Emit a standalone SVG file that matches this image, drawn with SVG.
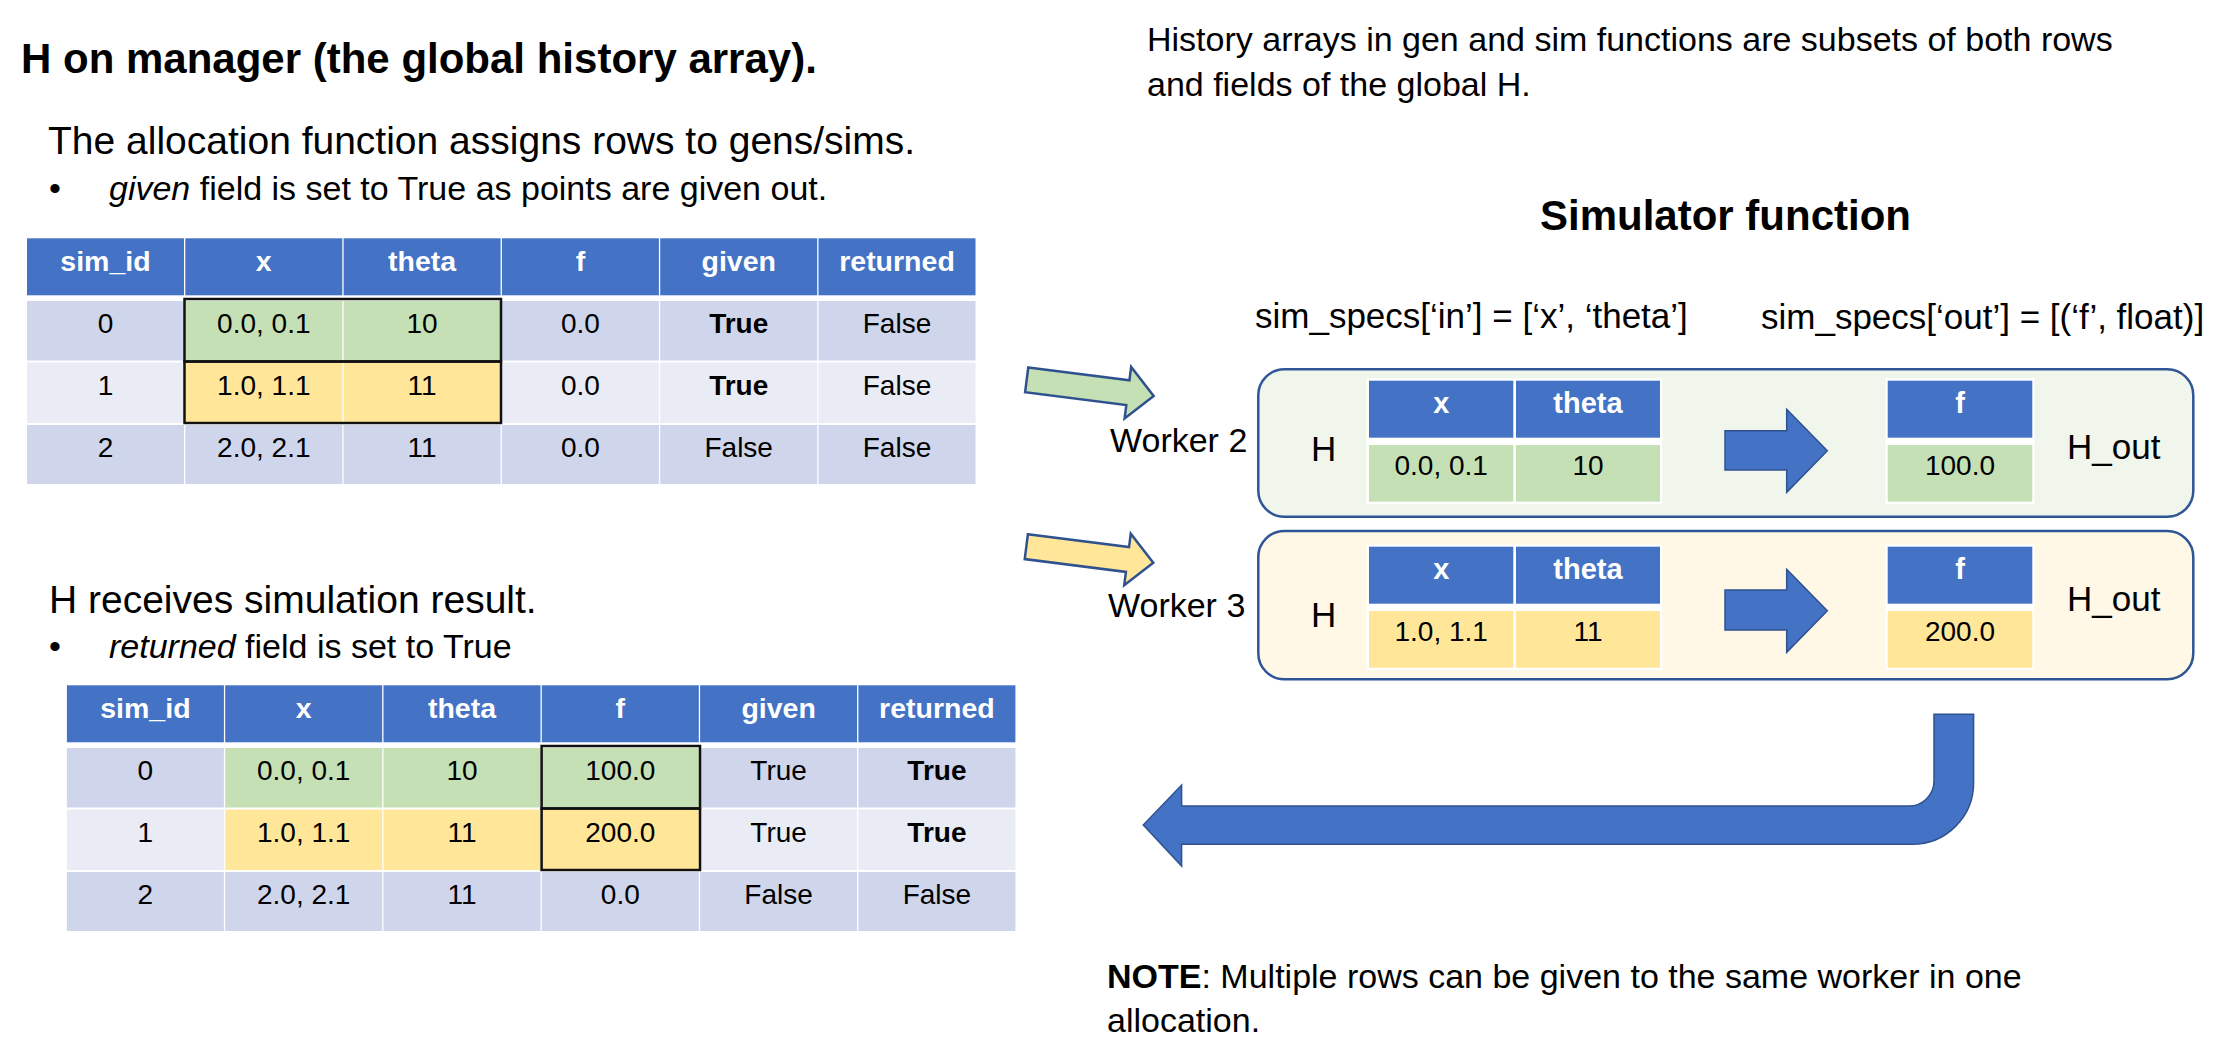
<svg xmlns="http://www.w3.org/2000/svg" width="2232" height="1064" viewBox="0 0 2232 1064">
<style>
text { font-family: "Liberation Sans", Arial, sans-serif; fill: #000; }
.h1 { font-size: 42px; font-weight: bold; }
.big { font-size: 39px; }
.body { font-size: 34px; }
.spec { font-size: 35px; }
.hd { font-size: 28.5px; font-weight: bold; fill: #fff; text-anchor: middle; }
.hd2 { font-size: 29px; font-weight: bold; fill: #fff; text-anchor: middle; }
.cd { font-size: 28px; text-anchor: middle; }
.b { font-weight: bold; }
.hdr { fill: #4472C4; }
.r1 { fill: #CFD5EA; }
.r2 { fill: #E9EBF5; }
.g { fill: #C5E0B4; }
.y { fill: #FFE699; }
.blk { fill: none; stroke: #111; stroke-width: 2.5; }
.box { stroke: #2F5597; stroke-width: 2.5; }
.barrow { fill: #4472C4; stroke: #2F528F; stroke-width: 1.5; }
.sarrow { stroke: #2F528F; stroke-width: 2.5; stroke-linejoin: miter; }
</style>
<defs>
<polygon id="smallArrow" points="0,-12.5 102,-12.5 102,-26 128,0 102,26 102,12.5 0,12.5"/>
</defs>
<rect x="0" y="0" width="2232" height="1064" fill="#fff"/>

<g id="title">
<text class="h1" x="21" y="73">H on manager (the global history array).</text>
</g>

<g id="alloc-text">
<text class="big" x="48" y="154">The allocation function assigns rows to gens/sims.</text>
<text class="body" x="49" y="200">•</text>
<text class="body" x="109" y="200"><tspan font-style="italic">given</tspan> field is set to True as points are given out.</text>
</g>

<g id="table1">
<rect class="hdr" x="27" y="238.3" width="157" height="57"/>
<rect class="hdr" x="185.3" y="238.3" width="157" height="57"/>
<rect class="hdr" x="343.6" y="238.3" width="157" height="57"/>
<rect class="hdr" x="501.9" y="238.3" width="157" height="57"/>
<rect class="hdr" x="660.2" y="238.3" width="157" height="57"/>
<rect class="hdr" x="818.5" y="238.3" width="157" height="57"/>
<rect class="r1" x="27" y="301" width="157" height="59.5"/>
<rect class="g" x="185.3" y="301" width="157" height="59.5"/>
<rect class="g" x="343.6" y="301" width="157" height="59.5"/>
<rect class="r1" x="501.9" y="301" width="157" height="59.5"/>
<rect class="r1" x="660.2" y="301" width="157" height="59.5"/>
<rect class="r1" x="818.5" y="301" width="157" height="59.5"/>
<rect class="r2" x="27" y="362.5" width="157" height="60.5"/>
<rect class="y" x="185.3" y="362.5" width="157" height="60.5"/>
<rect class="y" x="343.6" y="362.5" width="157" height="60.5"/>
<rect class="r2" x="501.9" y="362.5" width="157" height="60.5"/>
<rect class="r2" x="660.2" y="362.5" width="157" height="60.5"/>
<rect class="r2" x="818.5" y="362.5" width="157" height="60.5"/>
<rect class="r1" x="27" y="425" width="157" height="59"/>
<rect class="r1" x="185.3" y="425" width="157" height="59"/>
<rect class="r1" x="343.6" y="425" width="157" height="59"/>
<rect class="r1" x="501.9" y="425" width="157" height="59"/>
<rect class="r1" x="660.2" y="425" width="157" height="59"/>
<rect class="r1" x="818.5" y="425" width="157" height="59"/>
<rect class="blk" x="184.5" y="299" width="316.5" height="62.5"/>
<rect class="blk" x="184.5" y="361.5" width="316.5" height="61.5"/>
<text class="hd" x="105.5" y="270.7">sim_id</text>
<text class="hd" x="263.8" y="270.7">x</text>
<text class="hd" x="422.1" y="270.7">theta</text>
<text class="hd" x="580.4" y="270.7">f</text>
<text class="hd" x="738.7" y="270.7">given</text>
<text class="hd" x="897" y="270.7">returned</text>
<text class="cd" x="105.5" y="333">0</text>
<text class="cd" x="263.8" y="333">0.0, 0.1</text>
<text class="cd" x="422.1" y="333">10</text>
<text class="cd" x="580.4" y="333">0.0</text>
<text class="cd b" x="738.7" y="333">True</text>
<text class="cd" x="897" y="333">False</text>
<text class="cd" x="105.5" y="395.3">1</text>
<text class="cd" x="263.8" y="395.3">1.0, 1.1</text>
<text class="cd" x="422.1" y="395.3">11</text>
<text class="cd" x="580.4" y="395.3">0.0</text>
<text class="cd b" x="738.7" y="395.3">True</text>
<text class="cd" x="897" y="395.3">False</text>
<text class="cd" x="105.5" y="457">2</text>
<text class="cd" x="263.8" y="457">2.0, 2.1</text>
<text class="cd" x="422.1" y="457">11</text>
<text class="cd" x="580.4" y="457">0.0</text>
<text class="cd" x="738.7" y="457">False</text>
<text class="cd" x="897" y="457">False</text>
</g>

<g id="result-text">
<text class="big" x="49" y="612.7">H receives simulation result.</text>
<text class="body" x="49" y="658">•</text>
<text class="body" x="109" y="658"><tspan font-style="italic">returned</tspan> field is set to True</text>
</g>

<g id="table2">
<rect class="hdr" x="66.9" y="685.3" width="157" height="57"/>
<rect class="hdr" x="225.2" y="685.3" width="157" height="57"/>
<rect class="hdr" x="383.5" y="685.3" width="157" height="57"/>
<rect class="hdr" x="541.8" y="685.3" width="157" height="57"/>
<rect class="hdr" x="700.1" y="685.3" width="157" height="57"/>
<rect class="hdr" x="858.4" y="685.3" width="157" height="57"/>
<rect class="r1" x="66.9" y="748" width="157" height="59.5"/>
<rect class="g" x="225.2" y="748" width="157" height="59.5"/>
<rect class="g" x="383.5" y="748" width="157" height="59.5"/>
<rect class="g" x="541.8" y="748" width="157" height="59.5"/>
<rect class="r1" x="700.1" y="748" width="157" height="59.5"/>
<rect class="r1" x="858.4" y="748" width="157" height="59.5"/>
<rect class="r2" x="66.9" y="809.5" width="157" height="60.5"/>
<rect class="y" x="225.2" y="809.5" width="157" height="60.5"/>
<rect class="y" x="383.5" y="809.5" width="157" height="60.5"/>
<rect class="y" x="541.8" y="809.5" width="157" height="60.5"/>
<rect class="r2" x="700.1" y="809.5" width="157" height="60.5"/>
<rect class="r2" x="858.4" y="809.5" width="157" height="60.5"/>
<rect class="r1" x="66.9" y="872" width="157" height="59"/>
<rect class="r1" x="225.2" y="872" width="157" height="59"/>
<rect class="r1" x="383.5" y="872" width="157" height="59"/>
<rect class="r1" x="541.8" y="872" width="157" height="59"/>
<rect class="r1" x="700.1" y="872" width="157" height="59"/>
<rect class="r1" x="858.4" y="872" width="157" height="59"/>
<rect class="blk" x="541.6" y="746" width="158.4" height="62.5"/>
<rect class="blk" x="541.6" y="808.5" width="158.4" height="61.5"/>
<text class="hd" x="145.4" y="717.7">sim_id</text>
<text class="hd" x="303.7" y="717.7">x</text>
<text class="hd" x="462" y="717.7">theta</text>
<text class="hd" x="620.3" y="717.7">f</text>
<text class="hd" x="778.6" y="717.7">given</text>
<text class="hd" x="936.9" y="717.7">returned</text>
<text class="cd" x="145.4" y="780">0</text>
<text class="cd" x="303.7" y="780">0.0, 0.1</text>
<text class="cd" x="462" y="780">10</text>
<text class="cd" x="620.3" y="780">100.0</text>
<text class="cd" x="778.6" y="780">True</text>
<text class="cd b" x="936.9" y="780">True</text>
<text class="cd" x="145.4" y="842.3">1</text>
<text class="cd" x="303.7" y="842.3">1.0, 1.1</text>
<text class="cd" x="462" y="842.3">11</text>
<text class="cd" x="620.3" y="842.3">200.0</text>
<text class="cd" x="778.6" y="842.3">True</text>
<text class="cd b" x="936.9" y="842.3">True</text>
<text class="cd" x="145.4" y="904">2</text>
<text class="cd" x="303.7" y="904">2.0, 2.1</text>
<text class="cd" x="462" y="904">11</text>
<text class="cd" x="620.3" y="904">0.0</text>
<text class="cd" x="778.6" y="904">False</text>
<text class="cd" x="936.9" y="904">False</text>
</g>

<g id="subset-note">
<text class="body" x="1147" y="51">History arrays in gen and sim functions are subsets of both rows</text>
<text class="body" x="1147" y="96">and fields of the global H.</text>
</g>

<g id="sim-heading">
<text class="h1" x="1540" y="230">Simulator function</text>
<text class="spec" x="1255" y="328">sim_specs[‘in’] = [‘x’, ‘theta’]</text>
<text class="spec" x="1761" y="329">sim_specs[‘out’] = [(‘f’, float)]</text>
</g>

<g id="worker2">
<rect class="box" x="1258.3" y="369.3" width="935" height="147.4" rx="26" fill="#F1F6ED"/>
<text class="body" x="1110" y="451.7">Worker 2</text>
<text class="spec" x="1311" y="460.7" font-size="36">H</text>
<rect x="1366.7" y="378.5" width="295.6" height="125.5" fill="#fff"/>
<rect class="hdr" x="1369" y="380.7" width="144.3" height="57"/>
<rect class="hdr" x="1516" y="380.7" width="144" height="57"/>
<rect class="g" x="1369" y="445" width="144.3" height="56.7"/>
<rect class="g" x="1516" y="445" width="144" height="56.7"/>
<text class="hd2" x="1441.2" y="413.3">x</text>
<text class="hd2" x="1588" y="413.3">theta</text>
<text class="cd" x="1441.2" y="474.5">0.0, 0.1</text>
<text class="cd" x="1588" y="474.5">10</text>
<path class="barrow" d="M1725,430.7 H1786.7 V409.3 L1827.3,450.7 L1786.7,492.3 V470 H1725 Z"/>
<rect x="1885.7" y="378.5" width="148.6" height="125.5" fill="#fff"/>
<rect class="hdr" x="1887.7" y="380.7" width="144.6" height="57"/>
<rect class="g" x="1887.7" y="445" width="144.6" height="56.7"/>
<text class="hd2" x="1960" y="413.3">f</text>
<text class="cd" x="1960" y="474.5">100.0</text>
<text class="spec" x="2067" y="459.3">H_out</text>
</g>

<g id="worker3">
<rect class="box" x="1258.3" y="531" width="935" height="148.3" rx="26" fill="#FFF8E7"/>
<text class="body" x="1108" y="617.3">Worker 3</text>
<text class="spec" x="1311" y="626.7" font-size="36">H</text>
<rect x="1366.7" y="544.5" width="295.6" height="125.5" fill="#fff"/>
<rect class="hdr" x="1369" y="546.7" width="144.3" height="57"/>
<rect class="hdr" x="1516" y="546.7" width="144" height="57"/>
<rect class="y" x="1369" y="611" width="144.3" height="56.7"/>
<rect class="y" x="1516" y="611" width="144" height="56.7"/>
<text class="hd2" x="1441.2" y="579.3">x</text>
<text class="hd2" x="1588" y="579.3">theta</text>
<text class="cd" x="1441.2" y="640.5">1.0, 1.1</text>
<text class="cd" x="1588" y="640.5">11</text>
<path class="barrow" d="M1725,590 H1786.7 V569.3 L1827.3,610.7 L1786.7,652.3 V630 H1725 Z"/>
<rect x="1885.7" y="544.5" width="148.6" height="125.5" fill="#fff"/>
<rect class="hdr" x="1887.7" y="546.7" width="144.6" height="57"/>
<rect class="y" x="1887.7" y="611" width="144.6" height="56.7"/>
<text class="hd2" x="1960" y="579.3">f</text>
<text class="cd" x="1960" y="640.5">200.0</text>
<text class="spec" x="2067" y="610.7">H_out</text>
</g>

<g id="connectors">
<use href="#smallArrow" class="sarrow" fill="#C5E0B4" transform="translate(1026.7,379.8) rotate(7.25)"/>
<use href="#smallArrow" class="sarrow" fill="#FFE699" transform="translate(1026.3,546.7) rotate(7.2)"/>
<path class="barrow" d="M1934,714.3 H1973.6 V783 A61.5,61.3 0 0 1 1912,844.3 H1181.6 V866 L1143.3,825 L1181.6,785 V806 H1909 A25,25 0 0 0 1934,781 Z"/>
</g>

<g id="note">
<text class="body" x="1107" y="988"><tspan class="b">NOTE</tspan>: Multiple rows can be given to the same worker in one</text>
<text class="body" x="1107" y="1032">allocation.</text>
</g>
</svg>
